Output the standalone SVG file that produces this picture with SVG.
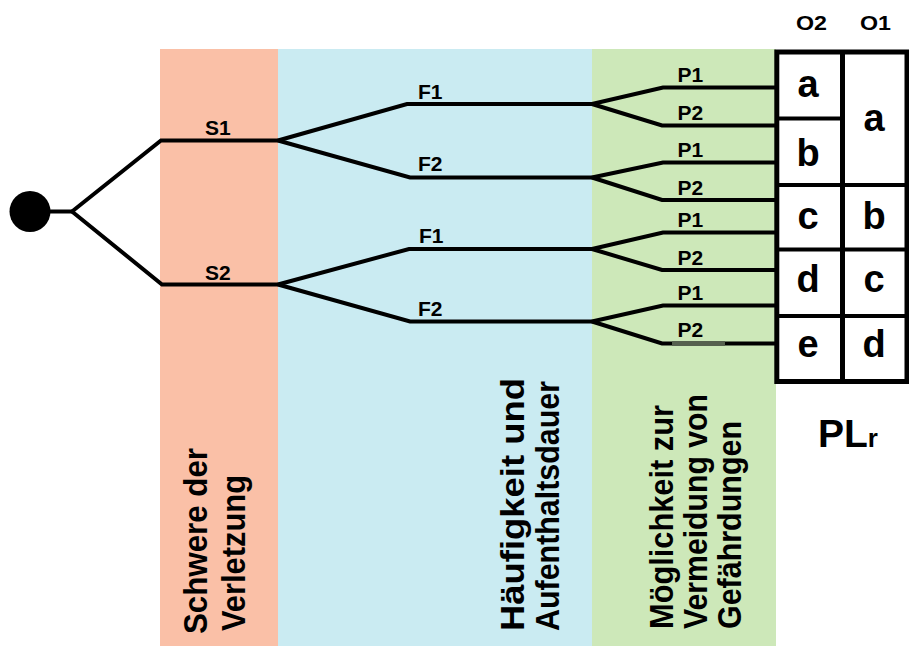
<svg xmlns="http://www.w3.org/2000/svg" width="909" height="646" viewBox="0 0 909 646">
  <style>
    .lbl { font-family: "Liberation Sans", Arial, sans-serif; font-weight: bold; font-size: 21px; fill: #000; }
    .head { font-family: "Liberation Sans", Arial, sans-serif; font-weight: bold; font-size: 20px; fill: #000; }
    .vert { font-family: "Liberation Sans", Arial, sans-serif; font-weight: bold; font-size: 33px; fill: #000; }
    .cell { font-family: "Liberation Sans", Arial, sans-serif; font-weight: bold; font-size: 38px; fill: #000; text-anchor: middle; }
    .branch { fill: none; stroke: #000; stroke-width: 4; stroke-linejoin: miter; }
    .grid { fill: none; stroke: #000; stroke-width: 4; }
  </style>

  <rect width="909" height="646" fill="#ffffff"/>

  <!-- parameter bands -->
  <g id="band-severity">
    <rect x="160" y="49" width="118" height="597" fill="#FAC0A7"/>
    <text class="vert" transform="translate(207,634) rotate(-90)" textLength="186" lengthAdjust="spacingAndGlyphs">Schwere der</text>
    <text class="vert" transform="translate(245,631) rotate(-90)" textLength="156" lengthAdjust="spacingAndGlyphs">Verletzung</text>
  </g>
  <g id="band-frequency">
    <rect x="278" y="49" width="314" height="597" fill="#CAEBF2"/>
    <text class="vert" transform="translate(524,631) rotate(-90)" textLength="253" lengthAdjust="spacingAndGlyphs">Häufigkeit und</text>
    <text class="vert" transform="translate(559,631) rotate(-90)" textLength="250" lengthAdjust="spacingAndGlyphs">Aufenthaltsdauer</text>
  </g>
  <g id="band-avoidance">
    <rect x="592" y="49" width="184" height="597" fill="#CDE8B9"/>
    <text class="vert" transform="translate(673,629) rotate(-90)" textLength="224" lengthAdjust="spacingAndGlyphs">Möglichkeit zur</text>
    <text class="vert" transform="translate(707,629) rotate(-90)" textLength="235" lengthAdjust="spacingAndGlyphs">Vermeidung von</text>
    <text class="vert" transform="translate(741,629) rotate(-90)" textLength="208" lengthAdjust="spacingAndGlyphs">Gefährdungen</text>
  </g>

  <!-- start node -->
  <g id="start">
    <circle cx="30" cy="211.5" r="20.5" fill="#000"/>
  </g>

  <!-- decision branches -->
  <g id="connectors" class="branch">
    <path d="M50 211.5 H72"/>
    <path d="M72 211.5 L161 140.5 H278"/>
    <path d="M72 211.5 L162 284.5 H278"/>

    <path d="M278 140.5 L407 104 H592"/>
    <path d="M278 140.5 L410 177.5 H592"/>
    <path d="M278 284.5 L409 249 H592"/>
    <path d="M278 284.5 L410 321.5 H592"/>

    <path d="M592 104 L663 87.5 H777"/>
    <path d="M592 104 L662 125.5 H777"/>
    <path d="M592 177.5 L663 162.5 H777"/>
    <path d="M592 177.5 L662 200 H777"/>
    <path d="M592 249 L663 232.5 H777"/>
    <path d="M592 249 L662 270 H777"/>
    <path d="M592 321.5 L663 305.5 H777"/>
    <path d="M592 321.5 L662 343.5 H777"/>
    <path d="M672 343.5 H725" stroke="#56604f" stroke-width="5"/>
  </g>

  <!-- branch labels -->
  <g id="branch-labels">
    <text class="lbl" x="205" y="134.5">S1</text>
    <text class="lbl" x="205" y="279.5">S2</text>
    <text class="lbl" x="418" y="98.5">F1</text>
    <text class="lbl" x="418" y="171">F2</text>
    <text class="lbl" x="419" y="243">F1</text>
    <text class="lbl" x="418" y="315.5">F2</text>
    <text class="lbl" x="677.5" y="82">P1</text>
    <text class="lbl" x="677.5" y="120">P2</text>
    <text class="lbl" x="677.5" y="157">P1</text>
    <text class="lbl" x="677.5" y="195">P2</text>
    <text class="lbl" x="677.5" y="227">P1</text>
    <text class="lbl" x="677.5" y="265">P2</text>
    <text class="lbl" x="677.5" y="300">P1</text>
    <text class="lbl" x="677.5" y="337">P2</text>
  </g>

  <!-- required performance level table -->
  <g id="plr-table">
    <text class="head" x="796" y="29.5" textLength="31" lengthAdjust="spacingAndGlyphs">O2</text>
    <text class="head" x="860" y="29.5" textLength="31" lengthAdjust="spacingAndGlyphs">O1</text>
    <rect x="776.8" y="52" width="130.2" height="329.5" fill="#fff" stroke="#000" stroke-width="5"/>
    <line x1="842.5" y1="52" x2="842.5" y2="381.5" stroke="#000" stroke-width="5"/>
    <path class="grid" d="M777 118.5 H842.5 M777 185 H907 M777 249.5 H907 M777 316 H907"/>
    <text class="cell" x="808" y="96.5">a</text>
    <text class="cell" x="808" y="165.5">b</text>
    <text class="cell" x="808" y="228.5">c</text>
    <text class="cell" x="808" y="291.5">d</text>
    <text class="cell" x="808" y="356.5">e</text>
    <text class="cell" x="874" y="130.5">a</text>
    <text class="cell" x="874" y="228.5">b</text>
    <text class="cell" x="874" y="291.5">c</text>
    <text class="cell" x="874" y="356.5">d</text>
    <text x="818" y="446.5" font-family="Liberation Sans, Arial, sans-serif" font-weight="bold" font-size="39">PL<tspan font-size="26">r</tspan></text>
  </g>
</svg>
